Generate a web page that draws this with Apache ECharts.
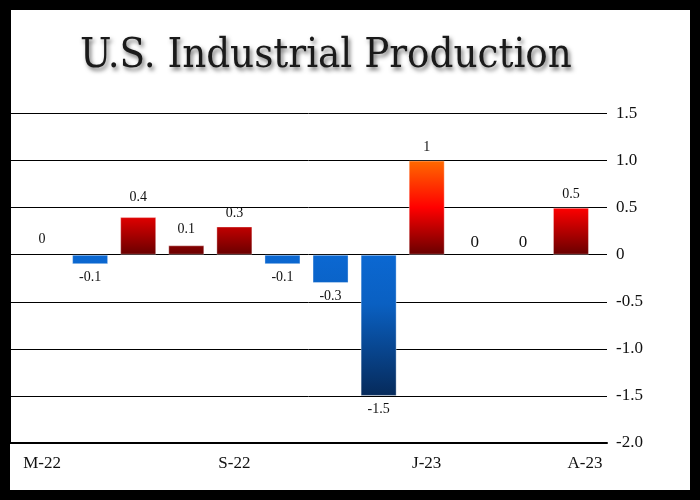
<!DOCTYPE html>
<html>
<head>
<meta charset="utf-8">
<script src="https://cdn.jsdelivr.net/npm/echarts@6/dist/echarts.min.js"></script>
<style>html,body{margin:0;padding:0;background:#000;}#c{width:700px;height:500px;}</style>
</head>
<body>
<div id="c"></div>
<script>
const categories = ['M-22','J-22','J-22','A-22','S-22','O-22','N-22','D-22','J-23','F-23','M-23','A-23'];
const values = [0, -0.1, 0.4, 0.1, 0.3, -0.1, -0.3, -1.5, 1, 0, 0, 0.5];
const shownLabels = [0, 4, 8, 11];
const yTicks = { min: -2.0, max: 2.6, interval: 0.5, lastShown: 1.5 };

const serif = '"Liberation Serif", "DejaVu Serif", serif';
const chart = echarts.init(document.getElementById('c'), null, {renderer: 'canvas'});

const gridBox = {top: 10, bottom: 57};
const lineColors = [];
for (let v = yTicks.min; v <= yTicks.max + 1e-9; v += yTicks.interval) lineColors.push(v <= yTicks.lastShown + 1e-9 ? '#000' : 'rgba(0,0,0,0)');
lineColors.push('rgba(0,0,0,0)');

function buildData(pos, neg) {
  return values.map((v, i) => {
    const item = {value: v, itemStyle: {color: v >= 0 ? pos : neg}};
    if (v < 0) item.label = {position: 'bottom', distance: 6};
    else if (v === 0) { item.label = {position: 'top', distance: i === 0 ? 8 : 4, fontSize: i === 0 ? 14 : 17}; item.itemStyle.borderWidth = 0; }
    else item.label = {position: 'top', distance: v === 0.4 ? 13 : (v === 0.1 ? 9 : 6)};
    return item;
  });
}

const option = {
  backgroundColor: '#000',
  animation: false,
  graphic: [{type: 'rect', shape: {x: 10, y: 10, width: 680, height: 480}, style: {fill: '#fff'}, z: -100, silent: true}],
  title: {
    text: 'U.S. Industrial Production',
    left: 321, top: 30, textAlign: 'center',
    textStyle: {fontFamily: '"DejaVu Serif Condensed", "Liberation Serif", serif', fontSize: 41.5, fontWeight: 'normal', color: '#1a1a1a',
      textShadowColor: 'rgba(0,0,0,0.55)', textShadowBlur: 4, textShadowOffsetX: 2, textShadowOffsetY: 3}
  },
  grid: [
    {left: 10, right: 93, top: gridBox.top, bottom: gridBox.bottom},
    {left: 18, right: 105, top: gridBox.top, bottom: gridBox.bottom}
  ],
  xAxis: [
    {gridIndex: 0, type: 'value', min: 0, max: 1, show: true,
      axisLine: {show: true, onZero: false, lineStyle: {color: '#000', width: 2}},
      axisTick: {show: false}, axisLabel: {show: false}, splitLine: {show: false}},
    {gridIndex: 1, type: 'category', data: categories,
      axisLine: {show: false}, axisTick: {show: false}, splitLine: {show: false},
      axisLabel: {interval: (i) => shownLabels.includes(i), margin: 12,
        fontFamily: serif, fontSize: 17, color: '#111',
        formatter: (v, i) => i === 11 ? '{r|' + v + '}' : v,
        rich: {r: {fontFamily: serif, fontSize: 17, color: '#111', padding: [0, 0, 0, 28]}}}}
  ],
  yAxis: [
    {gridIndex: 0, type: 'value', position: 'right', min: yTicks.min, max: yTicks.max, interval: yTicks.interval,
      axisLine: {show: true, lineStyle: {color: '#000', width: 2}},
      axisTick: {show: false},
      axisLabel: {margin: 9, fontFamily: serif, fontSize: 17, color: '#111',
        formatter: (v) => v > yTicks.lastShown + 1e-9 ? '' : (v === 0 ? '0' : v.toFixed(1))},
      splitLine: {show: true, lineStyle: {color: lineColors, width: 1}}},
    {gridIndex: 1, type: 'value', min: yTicks.min, max: yTicks.max, interval: yTicks.interval, show: false,
      splitLine: {show: false}}
  ],
  series: [{
    type: 'bar', xAxisIndex: 1, yAxisIndex: 1, barWidth: 36,
    data: buildData('#c00000', '#0a64c8'),
    itemStyle: {borderColor: 'rgba(255,255,255,0.35)', borderWidth: 1},
    label: {show: true, fontFamily: serif, fontSize: 14, color: '#111',
      formatter: (p) => String(p.value)}
  }]
};
chart.setOption(option);

const y0 = chart.convertToPixel({yAxisIndex: 1}, 0);
const y1 = chart.convertToPixel({yAxisIndex: 1}, 1);
const yn = chart.convertToPixel({yAxisIndex: 1}, -1.5);
const posGrad = new echarts.graphic.LinearGradient(0, y0, 0, y1, [
  {offset: 0, color: '#680000'}, {offset: 0.5, color: '#ff0000'}, {offset: 1, color: '#ff6a00'}], true);
const negGrad = new echarts.graphic.LinearGradient(0, y0, 0, yn, [
  {offset: 0, color: '#0b68d2'}, {offset: 0.35, color: '#0a60c2'}, {offset: 1, color: '#062a5a'}], true);
chart.setOption({series: [{data: buildData(posGrad, negGrad)}]});
</script>
</body>
</html>
